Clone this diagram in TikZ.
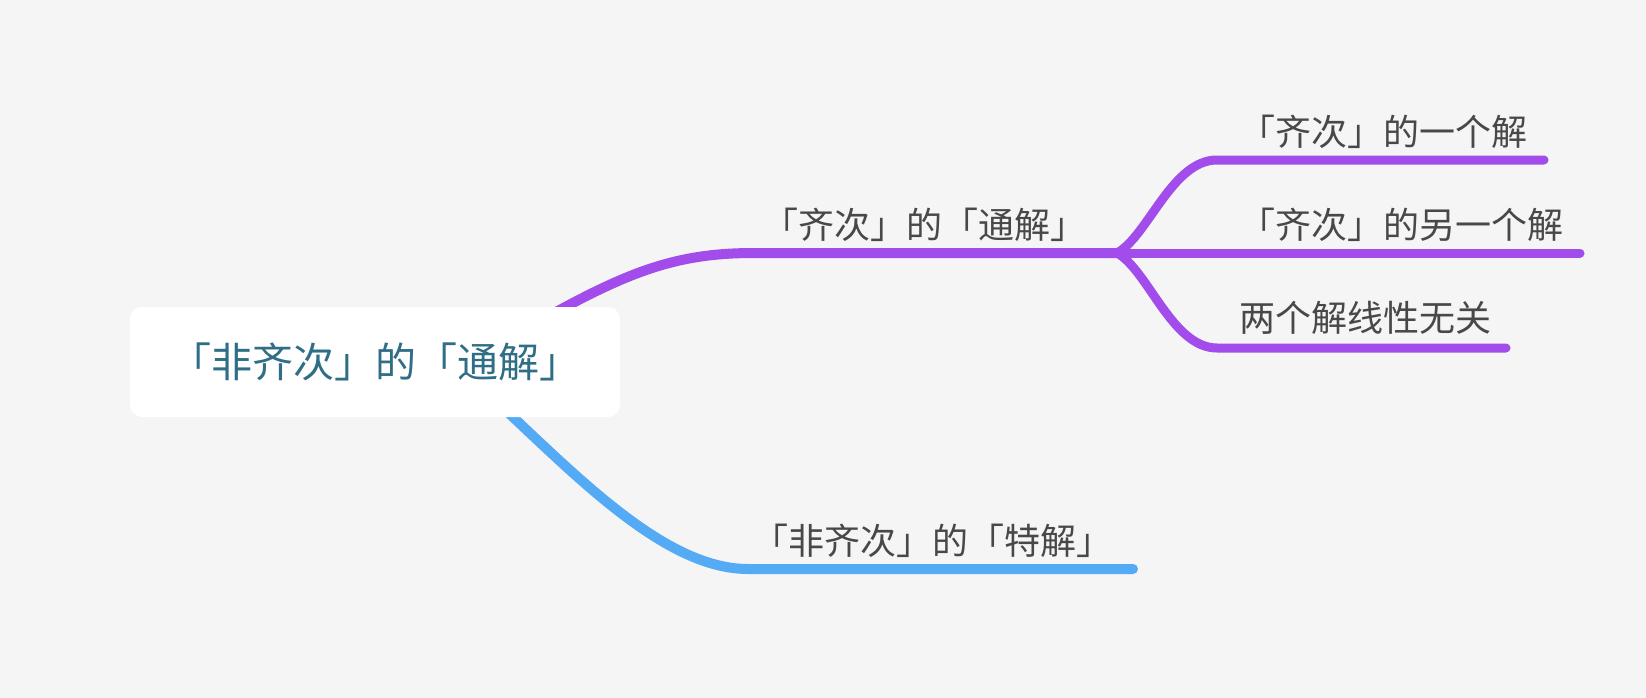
\documentclass[tikz,border=0pt]{standalone}
\usepackage{fontspec}
\newfontfamily\cjk{Noto Sans CJK SC}
\definecolor{bg}{HTML}{F4F5F4}
\definecolor{purp}{HTML}{A24DEB}
\definecolor{sky}{HTML}{55AAF5}
\definecolor{txt}{HTML}{484848}
\definecolor{roottxt}{HTML}{2F6E86}
\tikzset{
 lbl/.style={font=\cjk\fontsize{36}{42}\selectfont, text=txt, inner sep=0pt, anchor=west},
 pline/.style={draw=purp, line width=10pt, line cap=round, line join=round},
 cline/.style={draw=purp, line width=9pt, line cap=round, line join=round},
 bline/.style={draw=sky, line width=10pt, line cap=round, line join=round},
 rootbox/.style={fill=white, rounded corners=12pt, minimum width=490pt, minimum height=110pt, font=\cjk\fontsize{41}{48}\selectfont, text=roottxt, inner sep=0pt}
}
\begin{document}
\begin{tikzpicture}[x=1pt,y=-1pt]
\fill[bg] (0,0) rectangle (1646,698);
\useasboundingbox (0,0) rectangle (1646,698);
\coordinate (r1) at (480,355);
\coordinate (m1) at (754,253);
\coordinate (fork) at (1117,253);
\coordinate (c1s) at (1217,160);
\coordinate (c1e) at (1544,160);
\coordinate (c2e) at (1580,253);
\coordinate (c3s) at (1217,348);
\coordinate (c3e) at (1506,348);
\coordinate (r2) at (450,360);
\coordinate (b1s) at (748,569);
\coordinate (b1e) at (1133,569);
\draw[pline] (r1) .. controls (610,280) and (660,253) .. (m1) -- (fork);
\draw[cline] (fork) .. controls (1148,236) and (1172,160) .. (c1s) -- (c1e);
\draw[cline] (fork) -- (c2e);
\draw[cline] (fork) .. controls (1148,270) and (1172,348) .. (c3s) -- (c3e);
\draw[bline] (r2) .. controls (545,440) and (650,569) .. (b1s) -- (b1e);
\node[rootbox] (root) at (375,362) {「非齐次」的「通解」};
\node[lbl] (l0) at (762,225) {「齐次」的「通解」};
\node[lbl] (l1) at (1239,132) {「齐次」的一个解};
\node[lbl] (l2) at (1239,225) {「齐次」的另一个解};
\node[lbl] (l3) at (1239,318) {两个解线性无关};
\node[lbl] (l4) at (752,541) {「非齐次」的「特解」};
\end{tikzpicture}
\end{document}
